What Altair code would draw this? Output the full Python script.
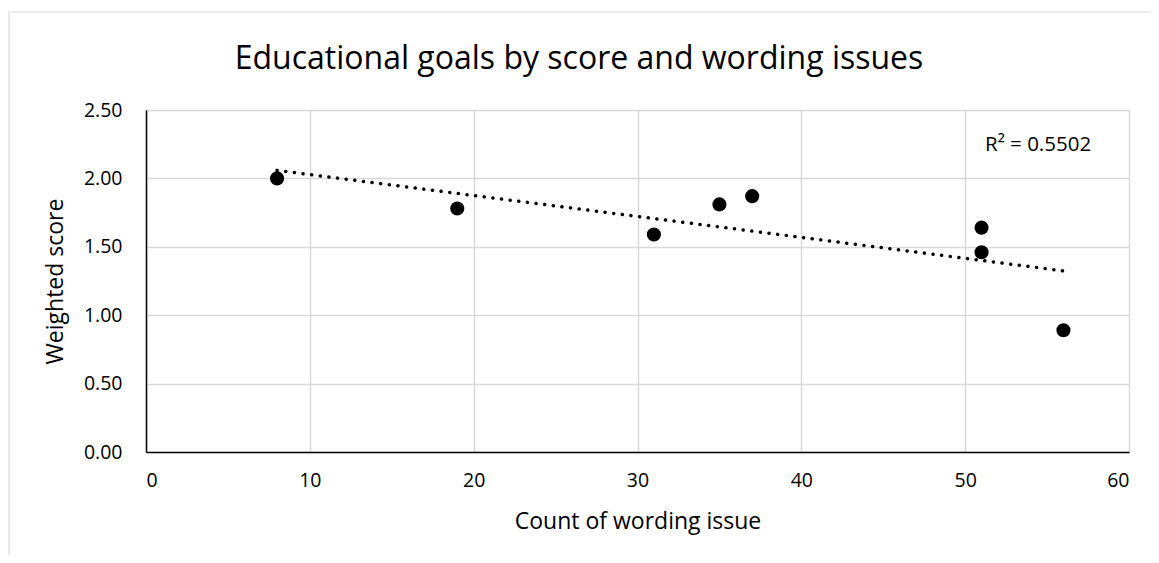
import altair as alt
import pandas as pd

issues = [8, 19, 31, 35, 37, 51, 51, 56]
scores = [2.00, 1.78, 1.59, 1.81, 1.87, 1.64, 1.46, 0.89]
title_text = "Educational goals by score and wording issues"
r2_text = "R² = 0.5502"
x_ticks = [0, 10, 20, 30, 40, 50, 60]
y_ticks = [0.0, 0.5, 1.0, 1.5, 2.0, 2.5]

df = pd.DataFrame({"issues": issues, "score": scores})
FONT = "Open Sans"

base = alt.Chart(df)

x_enc = alt.X("issues:Q", scale=alt.Scale(domain=[0, 60], nice=False),
              axis=alt.Axis(values=x_ticks, title="Count of wording issue",
                            titlePadding=21))
y_enc = alt.Y("score:Q", scale=alt.Scale(domain=[0, 2.5], nice=False),
              axis=alt.Axis(values=y_ticks, format=".2f", title="Weighted score",
                            titlePadding=16))

frame = base.mark_rect(fill=None, stroke="#d9d9d9", strokeWidth=1.2, clip=False).encode(
    x=alt.value(-137), x2=alt.value(1100), y=alt.value(-98), y2=alt.value(500)
).transform_filter("datum.issues == 8")

points = base.mark_circle(size=200, color="#000000", opacity=1).encode(x=x_enc, y=y_enc)

trend = base.transform_regression("issues", "score", method="linear").mark_line(
    color="#000000", strokeWidth=3.5, strokeDash=[0.1, 8.6], strokeCap="round"
).encode(x="issues:Q", y="score:Q")

r2 = base.mark_text(text=r2_text, align="left", baseline="middle", font=FONT,
                    fontSize=20.5, color="#000000").encode(
    x=alt.value(839), y=alt.value(35)
).transform_filter("datum.issues == 8")

title = base.mark_text(text=title_text, align="center", baseline="alphabetic", font=FONT,
                       fontSize=32, color="#000000").encode(
    x=alt.value(433), y=alt.value(-41)
).transform_filter("datum.issues == 8")

chart = alt.layer(frame, trend, points, r2, title).properties(
    width=983, height=342,
    padding={"left": 138, "top": 102, "right": 22, "bottom": 103},
    autosize=alt.AutoSizeParams(type="none"),
).configure_view(stroke=None).configure_axis(
    labelFont=FONT, titleFont=FONT, labelFontSize=19.5, titleFontSize=23,
    labelColor="#000000", titleColor="#000000", titleFontWeight="normal",
    gridColor="#d9d9d9", gridWidth=1.5, tickSize=0,
    domainColor="#000000", domainWidth=1.5,
).configure_axisX(labelPadding=19).configure_axisY(labelPadding=24)

chart.save("out.html", embed_options={"renderer": "svg", "actions": False})
